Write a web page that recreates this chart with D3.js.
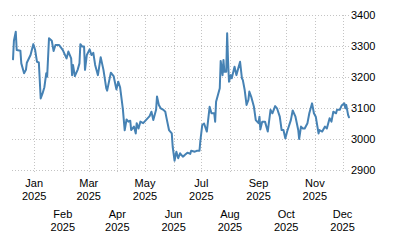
<!DOCTYPE html>
<html>
<head>
<meta charset="utf-8">
<script src="https://cdn.jsdelivr.net/npm/d3@7"></script>
<style>
  body { margin: 0; background: #fff; }
  svg { display: block; font-family: "Liberation Sans", Arial, sans-serif; }
</style>
</head>
<body>
<svg id="chart" width="400" height="250"></svg>
<script>
// values
const dates = [
  "2024-12-09","2024-12-10","2024-12-12","2024-12-13","2024-12-17","2024-12-18","2024-12-21","2024-12-23","2024-12-24","2024-12-28","2024-12-31",
  "2025-01-02","2025-01-04","2025-01-06","2025-01-08","2025-01-10","2025-01-12","2025-01-14","2025-01-15","2025-01-17","2025-01-20","2025-01-22","2025-01-24","2025-01-28",
  "2025-02-01","2025-02-05","2025-02-07","2025-02-10","2025-02-11","2025-02-12","2025-02-14","2025-02-17","2025-02-19","2025-02-20","2025-02-22","2025-02-24","2025-02-25","2025-02-27",
  "2025-03-02","2025-03-04","2025-03-06","2025-03-08","2025-03-11","2025-03-14","2025-03-17","2025-03-20","2025-03-21","2025-03-25","2025-03-28","2025-03-31",
  "2025-04-02","2025-04-04","2025-04-07","2025-04-09","2025-04-11","2025-04-13","2025-04-15","2025-04-16","2025-04-19","2025-04-21","2025-04-22","2025-04-24","2025-04-26","2025-04-29",
  "2025-05-03","2025-05-06","2025-05-08","2025-05-10","2025-05-13","2025-05-14","2025-05-16","2025-05-18","2025-05-21","2025-05-23","2025-05-24","2025-05-27","2025-05-30","2025-05-31",
  "2025-06-02","2025-06-04","2025-06-06","2025-06-08","2025-06-11","2025-06-13","2025-06-16","2025-06-19","2025-06-20","2025-06-24","2025-06-26","2025-06-29","2025-06-30",
  "2025-07-02","2025-07-04","2025-07-07","2025-07-09","2025-07-10","2025-07-12","2025-07-15","2025-07-16","2025-07-17","2025-07-19","2025-07-21","2025-07-22","2025-07-24","2025-07-25","2025-07-26","2025-07-28","2025-07-29","2025-07-30","2025-07-31",
  "2025-08-02","2025-08-03","2025-08-06","2025-08-08","2025-08-12","2025-08-14","2025-08-15","2025-08-17","2025-08-19","2025-08-21","2025-08-22","2025-08-24","2025-08-27","2025-08-29",
  "2025-09-01","2025-09-02","2025-09-03","2025-09-05","2025-09-08","2025-09-11","2025-09-14","2025-09-16","2025-09-19","2025-09-21","2025-09-24","2025-09-26","2025-09-28","2025-09-30",
  "2025-10-02","2025-10-06","2025-10-08","2025-10-11","2025-10-14","2025-10-15","2025-10-17","2025-10-19","2025-10-21","2025-10-24","2025-10-26","2025-10-29","2025-10-31",
  "2025-11-02","2025-11-05","2025-11-06","2025-11-09","2025-11-12","2025-11-14","2025-11-17","2025-11-19","2025-11-21","2025-11-24","2025-11-25","2025-11-28","2025-11-30",
  "2025-12-03","2025-12-04","2025-12-05","2025-12-07","2025-12-08"
];
const values = [
  3257,3317,3346,3287,3285,3244,3212,3223,3246,3271,3306,
  3287,3249,3247,3131,3147,3167,3212,3201,3325,3317,3284,3303,3303,
  3287,3260,3282,3260,3206,3239,3203,3223,3244,3306,3298,3298,3223,3271,
  3289,3271,3278,3239,3206,3264,3223,3164,3156,3214,3203,3160,
  3185,3167,3097,3028,3063,3056,3059,3029,3040,3018,3051,3034,3056,3051,
  3064,3074,3088,3061,3094,3137,3110,3099,3094,3088,3072,3029,3018,2975,
  2930,2959,2938,2954,2943,2948,2956,2952,2962,2959,2962,2962,2995,
  3045,3050,3024,3077,3104,3083,3083,3056,3120,3142,3164,3252,3206,3255,3217,3217,3341,3249,3185,
  3206,3196,3233,3206,3249,3196,3190,3158,3110,3126,3153,3137,3104,3061,
  3051,3072,3031,3056,3056,3024,3094,3083,3106,3099,3072,3029,3029,3002,
  3024,3061,3092,3072,3029,3000,3040,3034,3034,3051,3083,3115,3083,
  3072,3018,3029,3024,3040,3034,3067,3056,3088,3083,3094,3094,3108,
  3115,3099,3110,3078,3070
];
const yTicks = [2900, 3000, 3100, 3200, 3300, 3400];
const monthTicks = ["2025-01-01","2025-02-01","2025-03-01","2025-04-01","2025-05-01","2025-06-01",
  "2025-07-01","2025-08-01","2025-09-01","2025-10-01","2025-11-01","2025-12-01"];

const parse = d3.timeParse("%Y-%m-%d");
const data = dates.map((d, i) => ({date: parse(d), value: values[i]}));
const ticks = monthTicks.map(parse);

const svg = d3.select("#chart");
const margin = {left: 12, right: 349, top: 15, bottom: 170};

const x = d3.scaleTime()
  .domain(d3.extent(data, d => d.date))
  .range([13, 349]);
const y = d3.scaleLinear()
  .domain([2900, 3400])
  .range([margin.bottom, margin.top]);

const grid = svg.append("g")
  .attr("stroke", "#c4c4c4")
  .attr("stroke-width", 1)
  .attr("stroke-dasharray", "1,2");

grid.selectAll(".h")
  .data(yTicks)
  .enter()
  .append("line")
    .attr("x1", margin.left)
    .attr("x2", margin.right)
    .attr("y1", d => Math.round(y(d)) + 0.5)
    .attr("y2", d => Math.round(y(d)) + 0.5);

grid.selectAll(".v")
  .data(ticks)
  .enter()
  .append("line")
    .attr("x1", d => Math.round(x(d)) + 0.5)
    .attr("x2", d => Math.round(x(d)) + 0.5)
    .attr("y1", margin.top)
    .attr("y2", margin.bottom + 4);

// right axis labels
const yAxis = g => g
  .attr("transform", `translate(${margin.right},0)`)
  .call(d3.axisRight(y).tickValues(yTicks).tickSize(0).tickPadding(2).tickFormat(d3.format("d")))
  .call(g => g.select(".domain").remove())
  .call(g => g.selectAll("text")
    .attr("font-size", 11)
    .attr("font-family", "\"Liberation Sans\", Arial, sans-serif")
    .attr("fill", "#000"));
svg.append("g").call(yAxis);

// two-row month labels
const fmtM = d3.timeFormat("%b");
const fmtY = d3.timeFormat("%Y");
const lab = svg.append("g")
  .attr("font-size", 11)
  .attr("fill", "#000")
  .attr("text-anchor", "middle");
lab.selectAll("g")
  .data(ticks)
  .enter()
  .append("g")
    .attr("transform", (d, i) => `translate(${x(d)},${i % 2 === 0 ? 187 : 218})`)
    .each(function(d) {
      const g = d3.select(this);
      g.append("text").text(fmtM(d));
      g.append("text").attr("y", 13).text(fmtY(d));
    });

const line = d3.line()
  .x(d => x(d.date))
  .y(d => y(d.value));

svg.append("path")
  .datum(data)
  .attr("fill", "none")
  .attr("stroke", "#4682b4")
  .attr("stroke-width", 2)
  .attr("stroke-linejoin", "round")
  .attr("stroke-linecap", "round")
  .attr("d", line);
</script>
</body>
</html>
